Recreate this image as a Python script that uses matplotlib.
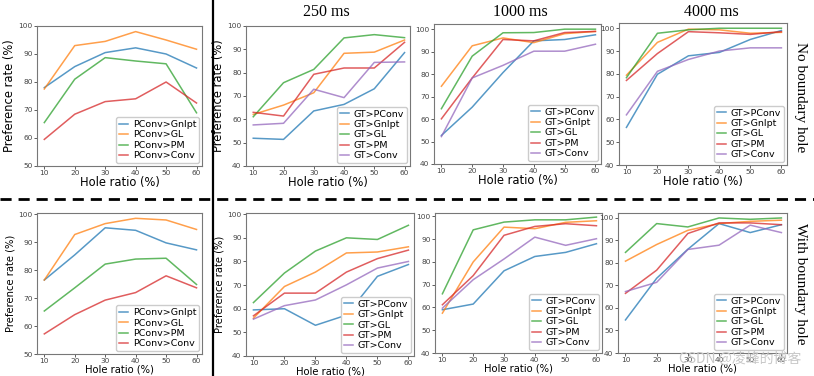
import matplotlib
matplotlib.use("Agg")
import matplotlib.pyplot as plt

hole_ratio = [10, 20, 30, 40, 50, 60]

pconv_labels = ["PConv>GnIpt", "PConv>GL", "PConv>PM", "PConv>Conv"]
gt_labels = ["GT>PConv", "GT>GnIpt", "GT>GL", "GT>PM", "GT>Conv"]

# no boundary hole
nb_pconv = [
    [78, 85.5, 90.5, 92.2, 90, 85],
    [77.5, 93, 94.5, 98, 95, 91.7],
    [65.5, 81, 88.7, 87.5, 86.5, 69],
    [59.5, 68.5, 73, 74, 80, 72.5],
]
nb_250 = [
    [51.9, 51.4, 63.6, 66.4, 73.1, 88.6],
    [62.1, 66.1, 71.4, 88.3, 88.8, 94],
    [61.1, 75.7, 81.4, 94.9, 96.3, 95],
    [63, 61.4, 79.3, 82, 82, 93],
    [57.6, 58.3, 72.9, 69.3, 84.4, 84.6],
]
nb_1000 = [
    [52.7, 65.3, 80.7, 94.8, 95.4, 97.5],
    [74.6, 92.6, 96.1, 94, 98, 99],
    [64.6, 88, 98.4, 98.5, 100, 100],
    [60.1, 78.3, 95.4, 94.8, 98.5, 99],
    [52.2, 78.3, 83.9, 90.2, 90.2, 93.3],
]
nb_4000 = [
    [56.5, 79.8, 87.9, 89.4, 95.1, 99],
    [79.4, 93.8, 99.6, 99.3, 97.8, 98.2],
    [78.3, 97.8, 99.3, 100, 100, 100],
    [77.1, 88.9, 98.5, 98, 97.3, 98.5],
    [62, 81.1, 86.3, 90, 91.4, 91.4],
]

# with boundary hole
wb_pconv = [
    [76.5, 85.5, 95.2, 94.3, 89.8, 87.3],
    [76.5, 92.8, 96.7, 98.6, 98, 94.6],
    [65.4, 73.7, 82.2, 84, 84.3, 74.9],
    [57.2, 64.1, 69.3, 72, 78, 73.7],
]
wb_250 = [
    [59.5, 60, 53, 57.3, 73.7, 78.7],
    [56, 69.4, 75.5, 83.6, 84, 86.2],
    [62.6, 75.1, 84.4, 90, 89.3, 95.3],
    [57, 66.6, 66.6, 75.5, 81.2, 84.8],
    [55.6, 61.3, 63.7, 70.1, 77.2, 80],
]
wb_1000 = [
    [59, 61.5, 76.1, 82.4, 84.2, 88],
    [57.5, 80, 95.3, 94.6, 97.4, 98.1],
    [66, 94.1, 97.5, 98.5, 98.5, 99.7],
    [61.2, 74, 91.7, 95.6, 96.8, 95.9],
    [59.7, 72.2, 81.3, 90.9, 87.3, 90.2],
]
wb_4000 = [
    [54.7, 73.2, 86.1, 97.5, 93.5, 97],
    [80.8, 88.2, 94.5, 97.5, 98.5, 99],
    [84.7, 97.5, 96, 100, 99.4, 100],
    [66.5, 76.8, 93.1, 97.8, 97.8, 97],
    [67.3, 71.4, 86, 87.9, 96.8, 93.5],
]

W, H = 814, 376
fig = plt.figure(figsize=(W / 100, H / 100), dpi=100)


def add_ax(left, top, right, bottom):
    return fig.add_axes([left / W, 1 - bottom / H, (right - left) / W, (bottom - top) / H])


def panel(ax, series, labels, ylim, yticks, ylabel, lab_size, colors):
    for vals, lab, c in zip(series, labels, colors):
        ax.plot(hole_ratio, vals, color=c, alpha=0.75, lw=1.1, label=lab)
    ax.set_ylim(*ylim)
    ax.set_xlim(7.6, 61.8)
    ax.set_xticks(hole_ratio)
    ax.set_yticks(yticks)
    ax.tick_params(labelsize=5.3, length=2, width=0.6, pad=1.2, colors="#444444")
    for s in ax.spines.values():
        s.set_color("#777777")
        s.set_linewidth(0.8)
    if ylabel:
        ax.set_ylabel("Preference rate (%)", fontsize=lab_size, labelpad=2)
    ax.set_xlabel("Hole ratio (%)", fontsize=lab_size, labelpad=0)
    ax.legend(loc="lower right", fontsize=6.8, handlelength=1.0, labelspacing=0.15,
              borderpad=0.3, handletextpad=0.5, borderaxespad=0.3, framealpha=1,
              edgecolor="#cccccc", fancybox=True)


c4 = ["tab:blue", "tab:orange", "tab:green", "tab:red"]
c5 = ["tab:blue", "tab:orange", "tab:green", "tab:red", "tab:purple"]

a1 = add_ax(37, 26, 202, 166)
panel(a1, nb_pconv, pconv_labels, (50, 100), range(50, 101, 10), True, 8.3, c4)
a2 = add_ax(246, 26, 410, 166)
panel(a2, nb_250, gt_labels, (40, 100), range(40, 101, 10), True, 8.3, c5)
a3 = add_ax(434, 24, 601, 164)
panel(a3, nb_1000, gt_labels, (40, 102.3), range(40, 101, 10), False, 8.3, c5)
a4 = add_ax(619, 23, 787, 165)
panel(a4, nb_4000, gt_labels, (40, 102.3), range(40, 101, 10), False, 8.3, c5)

b1 = add_ax(37, 213, 202, 354)
panel(b1, wb_pconv, pconv_labels, (50, 100.5), range(50, 101, 10), True, 7.2, c4)
b2 = add_ax(246, 213, 414, 356)
panel(b2, wb_250, gt_labels, (40, 100.5), range(40, 101, 10), True, 7.2, c5)
b3 = add_ax(435, 213, 602, 353)
panel(b3, wb_1000, gt_labels, (40, 101.5), range(40, 101, 10), False, 7.2, c5)
b4 = add_ax(618, 213, 787, 353)
panel(b4, wb_4000, gt_labels, (40, 102.2), range(40, 101, 10), False, 7.2, c5)

serif = "Liberation Serif"
fig.text(326 / W, 1 - 12 / H, "250 ms", ha="center", va="center", fontsize=11.5, family=serif)
fig.text(520 / W, 1 - 12 / H, "1000 ms", ha="center", va="center", fontsize=11.5, family=serif)
fig.text(711 / W, 1 - 12 / H, "4000 ms", ha="center", va="center", fontsize=11.5, family=serif)
fig.text(801 / W, 1 - 97 / H, "No boundary hole", ha="center", va="center", rotation=-90,
         fontsize=11, family=serif)
fig.text(801 / W, 1 - 284 / H, "With boundary hole", ha="center", va="center", rotation=-90,
         fontsize=11, family=serif)

# separators
fig.add_artist(plt.Line2D([213 / W, 213 / W], [0, 1], color="black", lw=1.6))
fig.add_artist(plt.Line2D([0, 1], [1 - 199 / H, 1 - 199 / H], color="black", lw=2,
                          linestyle=(0, (4, 2.5))))

fig.text(740 / W, 1 - 359 / H, "CSDN @凌峰的博客", ha="center", va="center", fontsize=10,
         color="#c8c8c8", family=["Noto Sans CJK SC", "DejaVu Sans"])

fig.savefig("out.png", dpi=100)
